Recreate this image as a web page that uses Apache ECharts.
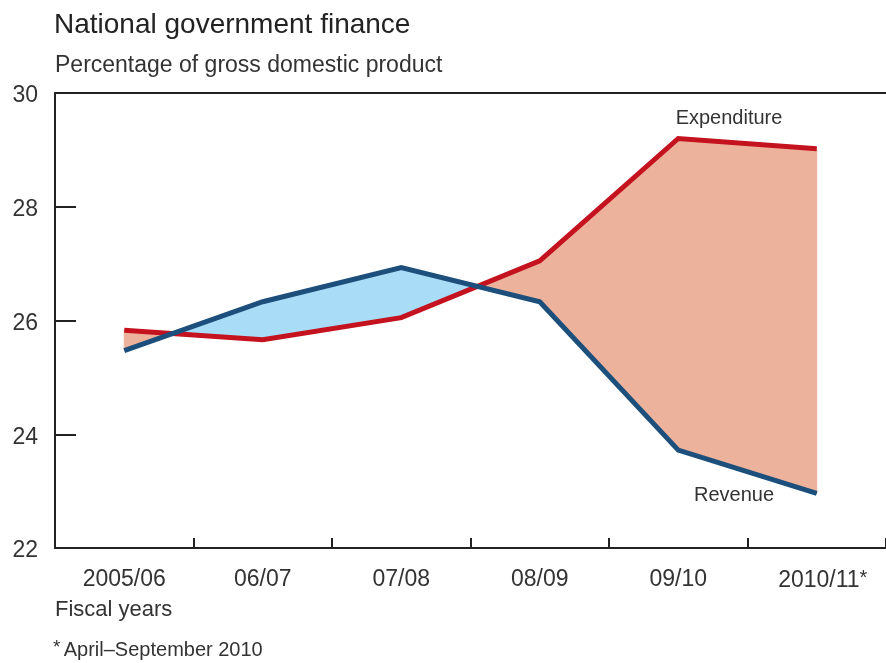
<!DOCTYPE html>
<html>
<head>
<meta charset="utf-8">
<script src="https://cdn.jsdelivr.net/npm/echarts@6/dist/echarts.min.js"></script>
<style>
html,body{margin:0;padding:0;background:#fff;}
#chart{width:886px;height:663px;}
</style>
</head>
<body>
<div id="chart"></div>
<script>
const categories = ['2005/06', '06/07', '07/08', '08/09', '09/10', '2010/11'];
const expenditure = [25.83, 25.66, 26.05, 27.05, 29.2, 29.02];
const revenue = [25.47, 26.33, 26.93, 26.33, 23.72, 22.96];
const yTicks = [22, 24, 26, 28, 30];

const FONT = '"Liberation Sans", Arial, sans-serif';
const TXT = '#333333';
const RED = '#c4121f';
const BLUE = '#1d4f7c';
const SALMON = '#edb29b';
const LIGHTBLUE = '#a9ddf7';

const chart = echarts.init(document.getElementById('chart'));

function renderFill(params, api) {
  const i = params.dataIndex;
  const e0 = api.coord([i, expenditure[i]]);
  const e1 = api.coord([i + 1, expenditure[i + 1]]);
  const r0 = api.coord([i, revenue[i]]);
  const r1 = api.coord([i + 1, revenue[i + 1]]);
  const d0 = expenditure[i] - revenue[i];
  const d1 = expenditure[i + 1] - revenue[i + 1];
  const col = d => (d >= 0 ? SALMON : LIGHTBLUE);
  const children = [];
  if (d0 * d1 >= 0) {
    children.push({type: 'polygon', shape: {points: [e0, e1, r1, r0]}, style: {fill: col(d0 + d1), stroke: col(d0 + d1), lineWidth: 1}});
  } else {
    const t = d0 / (d0 - d1);
    const c = [e0[0] + t * (e1[0] - e0[0]), e0[1] + t * (e1[1] - e0[1])];
    children.push({type: 'polygon', shape: {points: [e0, c, r0]}, style: {fill: col(d0), stroke: col(d0), lineWidth: 1}});
    children.push({type: 'polygon', shape: {points: [c, e1, r1]}, style: {fill: col(d1), stroke: col(d1), lineWidth: 1}});
  }
  return {type: 'group', children: children};
}

const option = {
  backgroundColor: '#fff',
  animation: false,
  grid: {left: 55, top: 93, width: 834, height: 455, containLabel: false},
  xAxis: [{
    type: 'category',
    data: categories,
    boundaryGap: true,
    position: 'bottom',
    axisLine: {show: true, lineStyle: {color: '#222', width: 2}},
    axisTick: {show: true, inside: true, interval: 0, length: 10, lineStyle: {color: '#222', width: 2}},
    axisLabel: {
      interval: 0,
      margin: 20,
      fontFamily: FONT, fontSize: 23, color: TXT,
      formatter: function (v) { return v === '2010/11' ? '{a|2010/11}{s|*}' : v; },
      rich: {
        a: {fontFamily: FONT, fontSize: 23, lineHeight: 26, color: TXT, padding: [0, 0, 0, 12]},
        s: {fontFamily: FONT, fontSize: 20, lineHeight: 20, color: TXT, verticalAlign: 'top', padding: [0, 0, 6, 0]}
      }
    },
    splitLine: {show: false}
  }, {
    type: 'category',
    data: categories,
    position: 'top',
    axisLine: {show: true, lineStyle: {color: '#222', width: 2}},
    axisTick: {show: false},
    axisLabel: {show: false}
  }],
  yAxis: {
    type: 'value',
    min: 22, max: 30, interval: 2,
    axisLine: {show: true, lineStyle: {color: '#222', width: 2}},
    axisTick: {show: true, inside: true, length: 21, lineStyle: {color: '#222', width: 2}},
    axisLabel: {
      margin: 17, fontFamily: FONT, fontSize: 23, color: TXT,
      verticalAlign: 'top', lineHeight: 6,
      formatter: function (v) { return yTicks.indexOf(v) >= 0 ? String(v) : ''; }
    },
    splitLine: {show: false}
  },
  series: [
    {
      type: 'custom',
      data: categories.slice(0, -1).map((c, i) => [i, expenditure[i]]),
      renderItem: renderFill,
      z: 1,
      silent: true
    },
    {
      name: 'Expenditure', type: 'line', data: expenditure,
      symbol: 'none', lineStyle: {color: RED, width: 5, join: 'miter'}, z: 3
    },
    {
      name: 'Revenue', type: 'line', data: revenue,
      symbol: 'none', lineStyle: {color: BLUE, width: 5, join: 'miter'}, z: 4
    }
  ],
  graphic: [
    {type: 'text', left: 54, top: 11, style: {text: 'National government finance', fontFamily: FONT, fontSize: 28, fill: '#222'}},
    {type: 'text', left: 55, top: 54, style: {text: 'Percentage of gross domestic product', fontFamily: FONT, fontSize: 23, fill: TXT}},
    {type: 'text', left: 55, top: 599, style: {text: 'Fiscal years', fontFamily: FONT, fontSize: 22, fill: TXT}},
    {type: 'text', left: 53, top: 638, style: {
      text: '{s|*} {a|April\u2013September 2010}',
      rich: {
        s: {fontFamily: FONT, fontSize: 19, fill: TXT, verticalAlign: 'top', padding: [0, 0, 6, 0]},
        a: {fontFamily: FONT, fontSize: 20, fill: TXT}
      }
    }},
    {type: 'text', x: 729, y: 118, style: {text: 'Expenditure', fontFamily: FONT, fontSize: 20, fill: TXT, align: 'center', verticalAlign: 'middle'}},
    {type: 'text', x: 661, y: 286, style: {text: 'Deficit', fontFamily: FONT, fontSize: 20, fill: TXT, align: 'center', verticalAlign: 'middle'}},
    {type: 'text', x: 335, y: 309, style: {text: 'Surplus', fontFamily: FONT, fontSize: 20, fill: TXT, align: 'center', verticalAlign: 'middle'}},
    {type: 'text', x: 734, y: 495, style: {text: 'Revenue', fontFamily: FONT, fontSize: 20, fill: TXT, align: 'center', verticalAlign: 'middle'}}
  ]
};
chart.setOption(option);
</script>
</body>
</html>
